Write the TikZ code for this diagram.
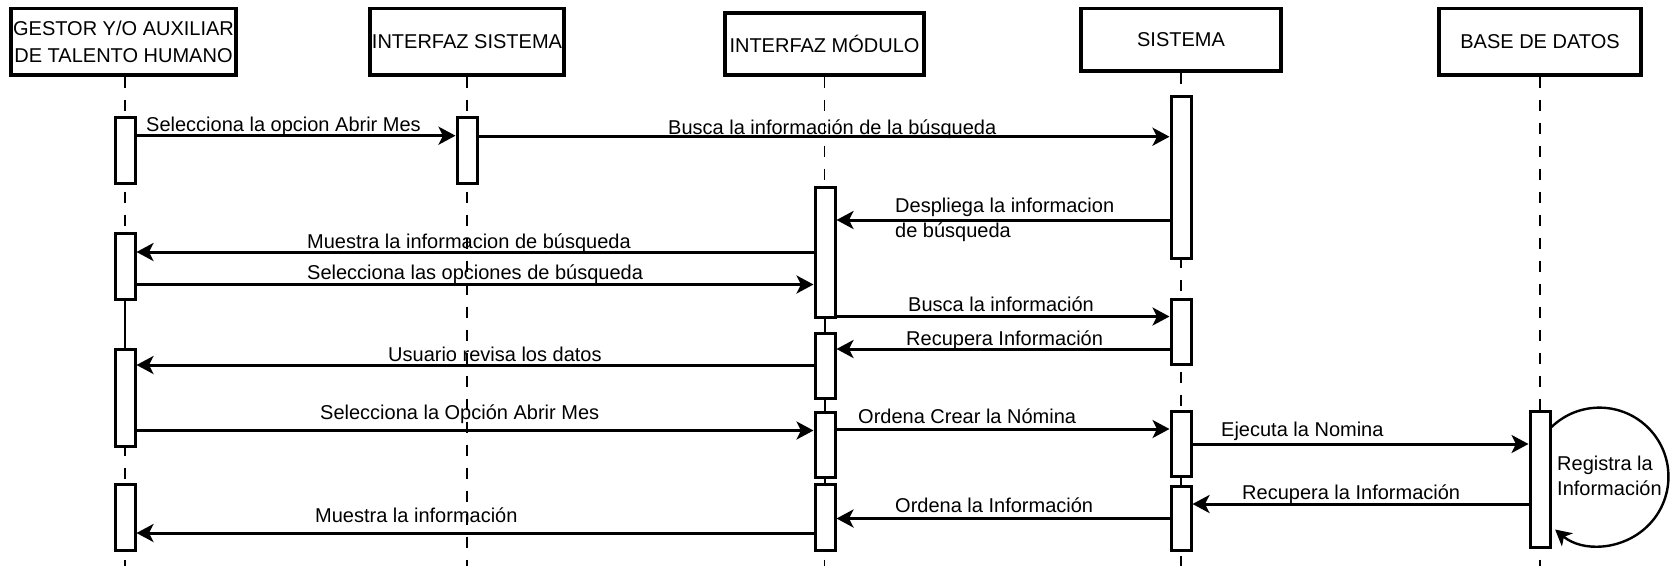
\documentclass[tikz,border=0pt]{standalone}
\usepackage{fontspec}
\setmainfont{Liberation Sans}
\usetikzlibrary{arrows.meta}
\begin{document}
\begin{tikzpicture}[x=1pt,y=1pt,
  actor/.style={draw, line width=3.2pt, fill=white, inner sep=2pt, align=center, font=\fontsize{20}{26.5}\selectfont},
  act/.style={draw, line width=3pt, fill=white, minimum width=20pt, inner sep=0pt},
  life/.style={line width=1.8pt, dash pattern=on 11pt off 12pt},
  solidlife/.style={line width=1.8pt},
  msg/.style={line width=3pt, -{Stealth[length=17pt,width=18pt,inset=4.5pt]}},
  loopmsg/.style={line width=2.4pt, -{Stealth[length=16pt,width=17pt,inset=4.5pt]}},
  lbl/.style={anchor=base west, inner sep=0pt, font=\fontsize{20}{24}\selectfont}]
\useasboundingbox (0,0) rectangle (1675,-574);

% actors
\node[actor, minimum width=225pt, minimum height=66.5pt] (b1) at (123.5,-41.75) {GESTOR Y/O AUXILIAR\\DE TALENTO HUMANO};
\node[actor, minimum width=194pt, minimum height=66.5pt] (b2) at (467,-41.75) {INTERFAZ SISTEMA};
\node[actor, minimum width=199pt, minimum height=62pt] (b3) at (824.5,-44) {INTERFAZ MÓDULO};
\node[actor, minimum width=200pt, minimum height=62.5pt] (b4) at (1181,-39.75) {SISTEMA};
\node[actor, minimum width=202pt, minimum height=66.5pt] (b5) at (1540,-41.75) {BASE DE DATOS};

% lifelines
\coordinate (bottom) at (0,-566);
\draw[life] (b1.south -| 125,0) -- (125,0 |- bottom);
\draw[life] (b2.south) -- (b2.south |- bottom);
\draw[life] (b3.south) -- (b3.south |- bottom);
\draw[life] (b4.south) -- (b4.south |- bottom);
\draw[life] (b5.south) -- (b5.south |- bottom);

% activations
\node[act, minimum height=66.2pt] (A1a) at (125,-150.6) {};
\node[act, minimum height=66pt] (A1b) at (125,-266) {};
\node[act, minimum height=97.5pt] (A1c) at (125,-397.75) {};
\node[act, minimum height=66pt] (A1d) at (125,-517) {};
\node[act, minimum height=66.2pt] (A2a) at (467,-150.6) {};
\node[act, minimum height=130pt] (A3a) at (825,-252) {};
\node[act, minimum height=65.5pt] (A3b) at (825,-365.75) {};
\node[act, minimum height=65.5pt] (A3c) at (825,-444.75) {};
\node[act, minimum height=66pt] (A3d) at (825,-517) {};
\node[act, minimum height=162.5pt] (A4a) at (1181,-177.25) {};
\node[act, minimum height=65pt] (A4b) at (1181,-331.5) {};
\node[act, minimum height=65.5pt] (A4c) at (1181,-443.75) {};
\node[act, minimum height=64pt] (A4d) at (1181,-518) {};
\node[act, minimum height=136pt] (A5a) at (1540,-479) {};

% solid lifeline pieces between activations
\draw[solidlife] (A1b.south) -- (A1c.north);
\draw[solidlife] (A3a.south) -- (A3b.north);
\draw[solidlife] (A3b.south) -- (A3c.north);
\draw[solidlife] (A3c.south) -- (A3d.north);
\draw[solidlife] (A4c.south) -- (A4d.north);

% messages
\draw[msg] (A1a.east |- 0,-135.7) -- (A2a.west |- 0,-135.7);
\draw[msg] (A2a.east |- 0,-136.7) -- (A4a.west |- 0,-136.7);
\draw[msg] (A4a.west |- 0,-220) -- (A3a.east |- 0,-220);
\draw[msg] (A3a.west |- 0,-252) -- (A1b.east |- 0,-252);
\draw[msg] (A1b.east |- 0,-284.5) -- (A3a.west |- 0,-284.5);
\draw[msg] (A3a.east |- 0,-316.5) -- (A4b.west |- 0,-316.5);
\draw[msg] (A4b.west |- 0,-349) -- (A3b.east |- 0,-349);
\draw[msg] (A3b.west |- 0,-365) -- (A1c.east |- 0,-365);
\draw[msg] (A1c.east |- 0,-430.5) -- (A3c.west |- 0,-430.5);
\draw[msg] (A3c.east |- 0,-429) -- (A4c.west |- 0,-429);
\draw[msg] (A4c.east |- 0,-444) -- (A5a.west |- 0,-444);
\draw[msg] (A5a.west |- 0,-504) -- (A4d.east |- 0,-504);
\draw[msg] (A4d.west |- 0,-518.5) -- (A3d.east |- 0,-518.5);
\draw[msg] (A3d.west |- 0,-533) -- (A1d.east |- 0,-533);

% self loop
\draw[loopmsg] (A5a.east |- 0,-427) arc[start angle=134, end angle=-130, radius=69];

% labels
\node[lbl] (l1) at (146,-131) {Selecciona la opcion Abrir Mes};
\node[lbl] (l2) at (668,-134.5) {Busca la información de la búsqueda};
\node[lbl] (l3) at (895,-212) {Despliega la informacion};
\node[lbl] (l3b) at (895,-237) {de búsqueda};
\node[lbl] (l4) at (307,-248) {Muestra la informacion de búsqueda};
\node[lbl] (l5) at (307,-279) {Selecciona las opciones de búsqueda};
\node[lbl] (l6) at (908,-311.5) {Busca la información};
\node[lbl] (l7) at (906,-345) {Recupera Información};
\node[lbl] (l8) at (388,-361) {Usuario revisa los datos};
\node[lbl] (l9) at (320,-419) {Selecciona la Opción Abrir Mes};
\node[lbl] (l10) at (858,-423.5) {Ordena Crear la Nómina};
\node[lbl] (l11) at (1221,-436) {Ejecuta la Nomina};
\node[lbl] (l13) at (1242,-499.5) {Recupera la Información};
\node[lbl] (l14) at (895,-512.5) {Ordena la Información};
\node[lbl] (l15) at (315,-522.5) {Muestra la información};
\node[lbl] (r1) at (1557,-470) {Registra la};
\node[lbl] (r2) at (1557,-495) {Información};
\end{tikzpicture}
\end{document}
